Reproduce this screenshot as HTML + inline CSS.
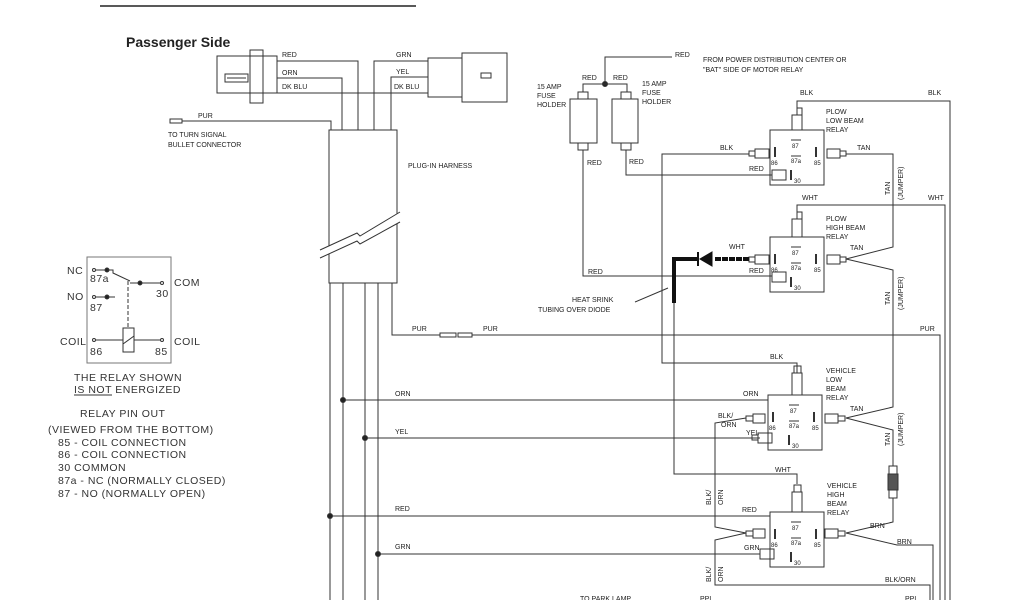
<!DOCTYPE html>
<html><head><style>
body{margin:0;background:#fff;width:1024px;height:600px;overflow:hidden}
svg{display:block}
text{font-family:"Liberation Sans",sans-serif;fill:#222}
.s{font-size:7px}
.l{font-size:10.5px;letter-spacing:0.5px;fill:#333}
</style></head><body>
<svg width="1024" height="600" viewBox="0 0 1024 600" stroke="#333" stroke-width="1" fill="none">
<line x1="100" y1="6" x2="416" y2="6" stroke="#222" stroke-width="1.5"/>
<text x="126" y="47" style="font-size:14px;font-weight:bold" stroke="none">Passenger Side</text>

<rect x="217" y="56" width="60" height="37"/>
<rect x="250" y="50" width="13" height="53"/>
<rect x="225" y="74" width="23" height="8"/>
<line x1="227" y1="78" x2="246" y2="78"/>
<rect x="428" y="58" width="34" height="39"/>
<rect x="462" y="53" width="45" height="49"/>
<rect x="481" y="73" width="10" height="5"/>
<polyline points="277,61 358,61 358,130"/>
<polyline points="277,78 342,78 342,130"/>
<line x1="277" y1="93" x2="428" y2="93"/>
<polyline points="428,61 374,61 374,130"/>
<polyline points="428,77 391,77 391,130"/>
<text class="s" x="282" y="57" stroke="none">RED</text>
<text class="s" x="282" y="75" stroke="none">ORN</text>
<text class="s" x="282" y="89" stroke="none">DK BLU</text>
<text class="s" x="396" y="57" stroke="none">GRN</text>
<text class="s" x="396" y="74" stroke="none">YEL</text>
<text class="s" x="394" y="89" stroke="none">DK BLU</text>
<rect x="170" y="119" width="12" height="4"/>
<polyline points="182,121 331,121 331,130"/>
<text class="s" x="198" y="118" stroke="none">PUR</text>
<text class="s" x="168" y="137" stroke="none">TO TURN SIGNAL</text>
<text class="s" x="168" y="147" stroke="none">BULLET CONNECTOR</text>
<rect x="329" y="130" width="68" height="153"/>
<polygon points="320,250 400,212 400,222 320,258" fill="#fff" stroke="none"/>
<polyline points="320,250 357,233 360,236 400,212"/>
<polyline points="320,258 357,241 360,244 400,222"/>
<text class="s" x="408" y="168" stroke="none">PLUG-IN HARNESS</text>
<line x1="330" y1="283" x2="330" y2="600"/>
<line x1="343" y1="283" x2="343" y2="600"/>
<line x1="365" y1="283" x2="365" y2="600"/>
<line x1="378" y1="283" x2="378" y2="600"/>
<polyline points="392,283 392,335 440,335"/>
<rect x="440" y="333" width="16" height="4"/><rect x="458" y="333" width="14" height="4"/>
<polyline points="472,335 940,335 940,600"/>
<text class="s" x="412" y="331" stroke="none">PUR</text>
<text class="s" x="483" y="331" stroke="none">PUR</text>
<text class="s" x="920" y="331" stroke="none">PUR</text>
<line x1="343" y1="400" x2="768" y2="400"/><circle cx="343" cy="400" r="2.5" fill="#222"/>
<line x1="365" y1="438" x2="760" y2="438"/><circle cx="365" cy="438" r="2.5" fill="#222"/>
<line x1="330" y1="516" x2="770" y2="516"/><circle cx="330" cy="516" r="2.5" fill="#222"/>
<line x1="378" y1="554" x2="760" y2="554"/><circle cx="378" cy="554" r="2.5" fill="#222"/>
<text class="s" x="395" y="396" stroke="none">ORN</text>
<text class="s" x="395" y="434" stroke="none">YEL</text>
<text class="s" x="395" y="511" stroke="none">RED</text>
<text class="s" x="395" y="549" stroke="none">GRN</text>
<text class="s" x="743" y="396" stroke="none">ORN</text>
<text class="s" x="746" y="435" stroke="none">YEL</text>
<text class="s" x="742" y="512" stroke="none">RED</text>
<text class="s" x="744" y="550" stroke="none">GRN</text>

<polyline points="672,57 605,57 605,84"/>
<circle cx="605" cy="84" r="2.5" fill="#222"/>
<polyline points="583,92 583,84 627,84 627,92"/>
<text class="s" x="675" y="57" stroke="none">RED</text>
<text class="s" x="703" y="62" stroke="none">FROM POWER DISTRIBUTION CENTER OR</text>
<text class="s" x="703" y="72" stroke="none">"BAT" SIDE OF MOTOR RELAY</text>
<text class="s" x="582" y="80" stroke="none">RED</text>
<text class="s" x="613" y="80" stroke="none">RED</text>
<rect x="578" y="92" width="10" height="7"/><rect x="570" y="99" width="27" height="44"/><rect x="578" y="143" width="10" height="7"/>
<rect x="621" y="92" width="10" height="7"/><rect x="612" y="99" width="26" height="44"/><rect x="621" y="143" width="10" height="7"/>
<text class="s" x="537" y="89" stroke="none">15 AMP</text><text class="s" x="537" y="98" stroke="none">FUSE</text><text class="s" x="537" y="107" stroke="none">HOLDER</text>
<text class="s" x="642" y="86" stroke="none">15 AMP</text><text class="s" x="642" y="95" stroke="none">FUSE</text><text class="s" x="642" y="104" stroke="none">HOLDER</text>
<polyline points="583,150 583,276 772,276"/>
<polyline points="626,150 626,175 772,175"/>
<text class="s" x="587" y="165" stroke="none">RED</text>
<text class="s" x="629" y="164" stroke="none">RED</text>
<text class="s" x="588" y="274" stroke="none">RED</text>
<text class="s" x="749" y="171" stroke="none">RED</text>
<text class="s" x="749" y="273" stroke="none">RED</text>

<g id="r1">
<rect x="770" y="130" width="54" height="55"/>
<line x1="791" y1="140" x2="801" y2="140"/><text class="s" x="792" y="148" stroke="none" style="font-size:6px">87</text>
<line x1="791" y1="156" x2="801" y2="156"/><text class="s" x="791" y="163" stroke="none" style="font-size:6px">87a</text>
<line x1="775" y1="147" x2="775" y2="157" stroke-width="2"/><text class="s" x="771" y="165" stroke="none" style="font-size:6px">86</text>
<line x1="816" y1="147" x2="816" y2="157" stroke-width="2"/><text class="s" x="814" y="165" stroke="none" style="font-size:6px">85</text>
<line x1="791" y1="170" x2="791" y2="180" stroke-width="2"/><text class="s" x="794" y="183" stroke="none" style="font-size:6px">30</text>
</g>
<use href="#r1" transform="translate(0,107)"/>
<rect x="797" y="108" width="5" height="7"/><rect x="792" y="115" width="10" height="15"/>
<rect x="797" y="212" width="5" height="7"/><rect x="792" y="219" width="10" height="18"/>
<rect x="755" y="149" width="14" height="9"/><rect x="749" y="151" width="6" height="5"/>
<rect x="772" y="170" width="14" height="10"/>
<rect x="827" y="149" width="13" height="9"/><rect x="840" y="151" width="6" height="5"/>
<rect x="755" y="255" width="14" height="9"/><rect x="749" y="257" width="6" height="5"/>
<rect x="772" y="272" width="14" height="10"/>
<rect x="827" y="255" width="13" height="9"/><rect x="840" y="257" width="6" height="5"/>
<text class="s" x="826" y="114" stroke="none">PLOW</text><text class="s" x="826" y="123" stroke="none">LOW BEAM</text><text class="s" x="826" y="132" stroke="none">RELAY</text>
<text class="s" x="826" y="221" stroke="none">PLOW</text><text class="s" x="826" y="230" stroke="none">HIGH BEAM</text><text class="s" x="826" y="239" stroke="none">RELAY</text>

<polyline points="797,108 797,101 950,101 950,600"/>
<text class="s" x="800" y="95" stroke="none">BLK</text><text class="s" x="928" y="95" stroke="none">BLK</text>
<polyline points="797,212 797,205 945,205 945,600"/>
<text class="s" x="802" y="200" stroke="none">WHT</text><text class="s" x="928" y="200" stroke="none">WHT</text>
<polyline points="749,154 662,154 662,363 797,363 797,373"/>
<text class="s" x="720" y="150" stroke="none">BLK</text>
<text class="s" x="770" y="359" stroke="none">BLK</text>
<polyline points="749,259 715,259" stroke="#111" stroke-width="4" stroke-dasharray="6,1"/>
<polygon points="712,252 712,266 700,259" fill="#111" stroke="#111"/>
<line x1="698" y1="252" x2="698" y2="266" stroke-width="2" stroke="#111"/>
<polyline points="697,259 674,259 674,303" stroke="#111" stroke-width="4"/>
<polyline points="674,303 674,474 797,474 797,484"/>
<text class="s" x="729" y="249" stroke="none">WHT</text>
<text class="s" x="775" y="472" stroke="none">WHT</text>
<line x1="635" y1="302" x2="668" y2="288"/>
<text class="s" x="572" y="302" stroke="none">HEAT SRINK</text>
<text class="s" x="538" y="312" stroke="none">TUBING OVER DIODE</text>
<polyline points="846,154 893,154 893,247 846,259 893,270 893,407 846,418 893,430 893,466"/>
<rect x="889" y="466" width="8" height="8"/><rect x="888" y="474" width="10" height="16" fill="#555"/><rect x="889" y="490" width="8" height="8"/>
<polyline points="893,498 893,522 846,533 897,545 933,545 933,600"/>
<text class="s" x="857" y="150" stroke="none">TAN</text>
<text class="s" x="850" y="250" stroke="none">TAN</text>
<text class="s" x="850" y="411" stroke="none">TAN</text>
<text class="s" x="870" y="528" stroke="none">BRN</text>
<text class="s" x="897" y="544" stroke="none">BRN</text>
<g stroke="none" class="s">
<text transform="translate(890,195) rotate(-90)" class="s">TAN</text>
<text transform="translate(903,200) rotate(-90)" class="s">(JUMPER)</text>
<text transform="translate(890,305) rotate(-90)" class="s">TAN</text>
<text transform="translate(903,310) rotate(-90)" class="s">(JUMPER)</text>
<text transform="translate(890,446) rotate(-90)" class="s">TAN</text>
<text transform="translate(903,446) rotate(-90)" class="s">(JUMPER)</text>
</g>
<use href="#r1" transform="translate(-2,265)"/>
<use href="#r1" transform="translate(0,382)"/>
<rect x="794" y="366" width="7" height="7"/><rect x="792" y="373" width="10" height="22"/>
<rect x="794" y="485" width="7" height="7"/><rect x="792" y="492" width="10" height="20"/>
<rect x="753" y="414" width="12" height="9"/><rect x="746" y="416" width="7" height="5"/>
<rect x="758" y="433" width="14" height="10"/><rect x="752" y="435" width="6" height="5"/>
<rect x="825" y="414" width="13" height="9"/><rect x="838" y="416" width="7" height="5"/>
<rect x="753" y="529" width="12" height="9"/><rect x="746" y="531" width="7" height="5"/>
<rect x="760" y="549" width="14" height="10"/>
<rect x="825" y="529" width="13" height="9"/><rect x="838" y="531" width="7" height="5"/>
<polyline points="746,418 715,423 715,527 746,533 715,540 715,585 930,585 930,600"/>
<text class="s" x="885" y="582" stroke="none">BLK/ORN</text>
<text class="s" x="718" y="418" stroke="none">BLK/</text><text class="s" x="721" y="427" stroke="none">ORN</text>
<g stroke="none">
<text transform="translate(711,505) rotate(-90)" class="s">BLK/</text>
<text transform="translate(723,505) rotate(-90)" class="s">ORN</text>
<text transform="translate(711,582) rotate(-90)" class="s">BLK/</text>
<text transform="translate(723,582) rotate(-90)" class="s">ORN</text>
</g>
<text class="s" x="826" y="373" stroke="none">VEHICLE</text><text class="s" x="826" y="382" stroke="none">LOW</text><text class="s" x="826" y="391" stroke="none">BEAM</text><text class="s" x="826" y="400" stroke="none">RELAY</text>
<text class="s" x="827" y="488" stroke="none">VEHICLE</text><text class="s" x="827" y="497" stroke="none">HIGH</text><text class="s" x="827" y="506" stroke="none">BEAM</text><text class="s" x="827" y="515" stroke="none">RELAY</text>
<text class="s" x="580" y="601" stroke="none">TO PARK LAMP</text>
<text class="s" x="700" y="601" stroke="none">PPL</text>
<text class="s" x="905" y="601" stroke="none">PPL</text>

<rect x="87" y="257" width="84" height="106" stroke="#777"/>
<g stroke="none" class="l">
<text x="67" y="274" class="l">NC</text>
<text x="90" y="282" class="l">87a</text>
<text x="67" y="300" class="l">NO</text>
<text x="90" y="311" class="l">87</text>
<text x="174" y="286" class="l">COM</text>
<text x="156" y="297" class="l">30</text>
<text x="60" y="345" class="l">COIL</text>
<text x="174" y="345" class="l">COIL</text>
<text x="90" y="355" class="l">86</text>
<text x="155" y="355" class="l">85</text>
<text x="74" y="381" class="l">THE RELAY SHOWN</text>
<text x="74" y="393" class="l">IS NOT ENERGIZED</text>
<text x="80" y="417" class="l">RELAY PIN  OUT</text>
<text x="48" y="433" class="l">(VIEWED FROM THE BOTTOM)</text>
<text x="58" y="446" class="l">85 - COIL CONNECTION</text>
<text x="58" y="458" class="l">86 - COIL CONNECTION</text>
<text x="58" y="471" class="l">30 COMMON</text>
<text x="58" y="484" class="l">87a - NC (NORMALLY CLOSED)</text>
<text x="58" y="497" class="l">87 - NO (NORMALLY OPEN)</text>
</g>
<line x1="74" y1="395" x2="112" y2="395"/>
<g stroke="#333">
<circle cx="94" cy="270" r="1.5"/><line x1="96" y1="270" x2="107" y2="270"/><circle cx="107" cy="270" r="2" fill="#222"/>
<polyline points="107,270 113,270 113,273 130,281"/>
<line x1="130" y1="283" x2="160" y2="283"/><circle cx="140" cy="283" r="2" fill="#222"/><circle cx="162" cy="283" r="1.5"/>
<circle cx="94" cy="297" r="1.5"/><line x1="96" y1="297" x2="115" y2="297"/><circle cx="107" cy="297" r="2" fill="#222"/>
<line x1="128" y1="281" x2="128" y2="328" stroke-dasharray="4,2"/>
<circle cx="94" cy="340" r="1.5"/><line x1="96" y1="340" x2="160" y2="340"/><circle cx="162" cy="340" r="1.5"/>
<rect x="123" y="328" width="11" height="24" fill="#fff"/><line x1="123" y1="344" x2="134" y2="336"/>
</g>
</svg>
</body></html>
